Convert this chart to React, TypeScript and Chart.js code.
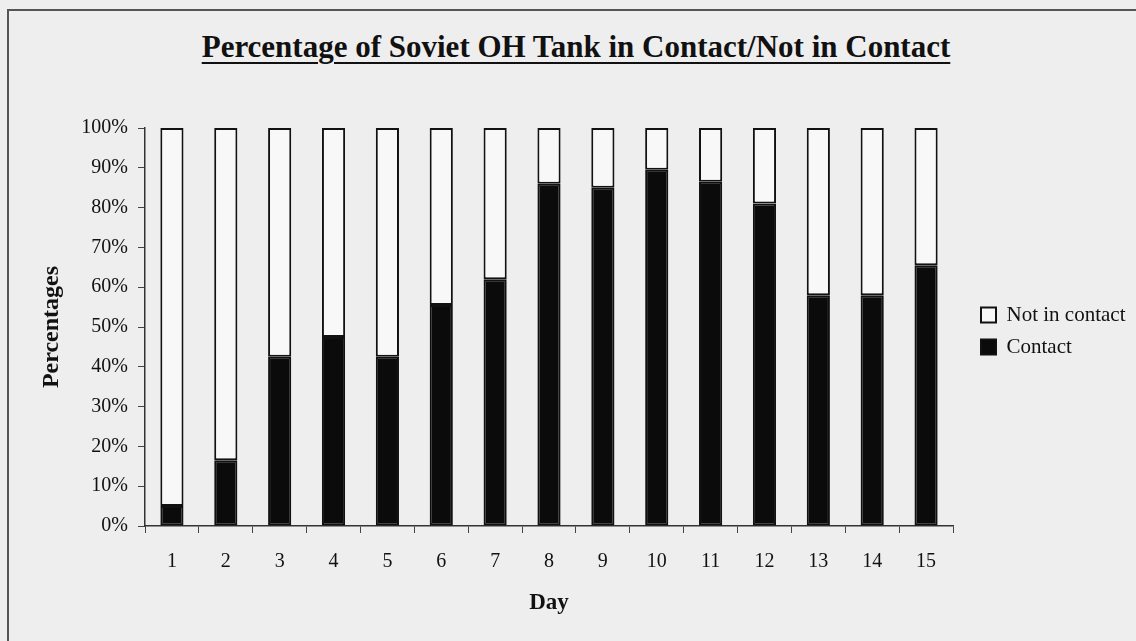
import React, { useEffect, useRef } from "react";
import { Chart, registerables } from "chart.js";

Chart.register(...registerables);

const days = ["1", "2", "3", "4", "5", "6", "7", "8", "9", "10", "11", "12", "13", "14", "15"];
const contact = [5, 16.5, 42.5, 47.5, 42.5, 55.5, 62, 86, 85, 89.5, 86.5, 81, 58, 58, 65.5];
const notInContact = contact.map((v) => 100 - v);
const yTicks = [0, 10, 20, 30, 40, 50, 60, 70, 80, 90, 100];

const FONT = "'Liberation Serif', 'Times New Roman', serif";

const legendFix = {
  id: "legendFix",
  beforeLayout(chart: any) {
    const lg = chart.legend;
    if (lg && !lg.__patched) {
      const orig = lg.fit.bind(lg);
      lg.fit = function () {
        orig();
        this.width = 140;
      };
      lg.__patched = true;
    }
  },
  afterLayout(chart: any) {
    const lg = chart.legend;
    if (lg) {
      lg.left += 17;
      lg.width = 180;
      lg.right = lg.left + 180;
      lg.top += 4;
      lg.bottom += 4;
    }
  },
};

export default function App() {
  const ref = useRef<HTMLCanvasElement | null>(null);

  useEffect(() => {
    if (!ref.current) return;
    const chart = new Chart(ref.current, {
      type: "bar",
      data: {
        labels: days,
        datasets: [
          {
            label: "Contact",
            data: contact,
            backgroundColor: "#0b0b0b",
            borderColor: "#111111",
            borderWidth: 2,
            borderSkipped: false,
            categoryPercentage: 1,
            barPercentage: 0.43,
          },
          {
            label: "Not in contact",
            data: notInContact,
            backgroundColor: "#f8f8f8",
            borderColor: "#111111",
            borderWidth: 2,
            borderSkipped: false,
            categoryPercentage: 1,
            barPercentage: 0.43,
          },
        ],
      },
      options: {
        responsive: false,
        animation: false,
        devicePixelRatio: 1,
        layout: { padding: { top: 128, left: 0, right: 43, bottom: 0 } },
        plugins: {
          tooltip: { enabled: false },
          title: { display: false },
          legend: {
            display: true,
            position: "right",
            fullSize: false,
            reverse: true,
            labels: {
              boxWidth: 15,
              boxHeight: 15,
              padding: 11,
              color: "#111",
              font: { family: FONT, size: 21 },
            },
          },
        },
        scales: {
          x: {
            stacked: true,
            afterFit: (s: any) => {
              s.height = 115;
            },
            grid: {
              display: true,
              offset: true,
              drawOnChartArea: false,
              drawTicks: true,
              tickLength: 7,
              color: "#444",
              lineWidth: 1,
            },
            border: { display: true, color: "#333", width: 1.5 },
            ticks: {
              color: "#111",
              padding: 17,
              font: { family: FONT, size: 20 },
            },
            title: {
              display: true,
              text: "Day",
              color: "#111",
              font: { family: FONT, size: 23, weight: "bold" },
              padding: { top: 4, bottom: 24 },
            },
          },
          y: {
            stacked: true,
            min: 0,
            max: 100,
            afterFit: (s: any) => {
              s.width = 145;
            },
            afterBuildTicks: (s: any) => {
              s.ticks = yTicks.map((v) => ({ value: v }));
            },
            grid: {
              display: true,
              drawOnChartArea: false,
              drawTicks: true,
              tickLength: 7,
              color: "#444",
              lineWidth: 1,
            },
            border: { display: true, color: "#333", width: 1.5 },
            ticks: {
              color: "#111",
              padding: 10,
              font: { family: FONT, size: 20 },
              callback: (v: any) => `${v}%`,
            },
            title: {
              display: true,
              text: "Percentages",
              color: "#111",
              font: { family: FONT, size: 24, weight: "bold" },
              padding: { top: 37, bottom: 4 },
            },
          },
        },
      },
      plugins: [legendFix],
    } as any);
    return () => chart.destroy();
  }, []);

  return (
    <div
      style={{
        position: "absolute",
        left: 0,
        top: 0,
        width: 1136,
        height: 641,
        overflow: "hidden",
        background: "#eeeeee",
      }}
    >
      <div
        style={{
          position: "absolute",
          left: 7,
          top: 9,
          width: 1160,
          height: 660,
          border: "2px solid #555",
          boxSizing: "border-box",
        }}
      />
      <div
        style={{
          position: "absolute",
          left: 8,
          top: 31,
          width: 1136,
          textAlign: "center",
          fontFamily: FONT,
          fontWeight: "bold",
          fontSize: 31,
          lineHeight: "31px",
          color: "#111",
          textDecoration: "underline",
          textDecorationThickness: "2px",
          textUnderlineOffset: "5px",
        }}
      >
        Percentage of Soviet OH Tank in Contact/Not in Contact
      </div>
      <canvas
        ref={ref}
        width={1136}
        height={641}
        style={{ position: "absolute", left: 0, top: 0, width: 1136, height: 641 }}
      />
    </div>
  );
}
